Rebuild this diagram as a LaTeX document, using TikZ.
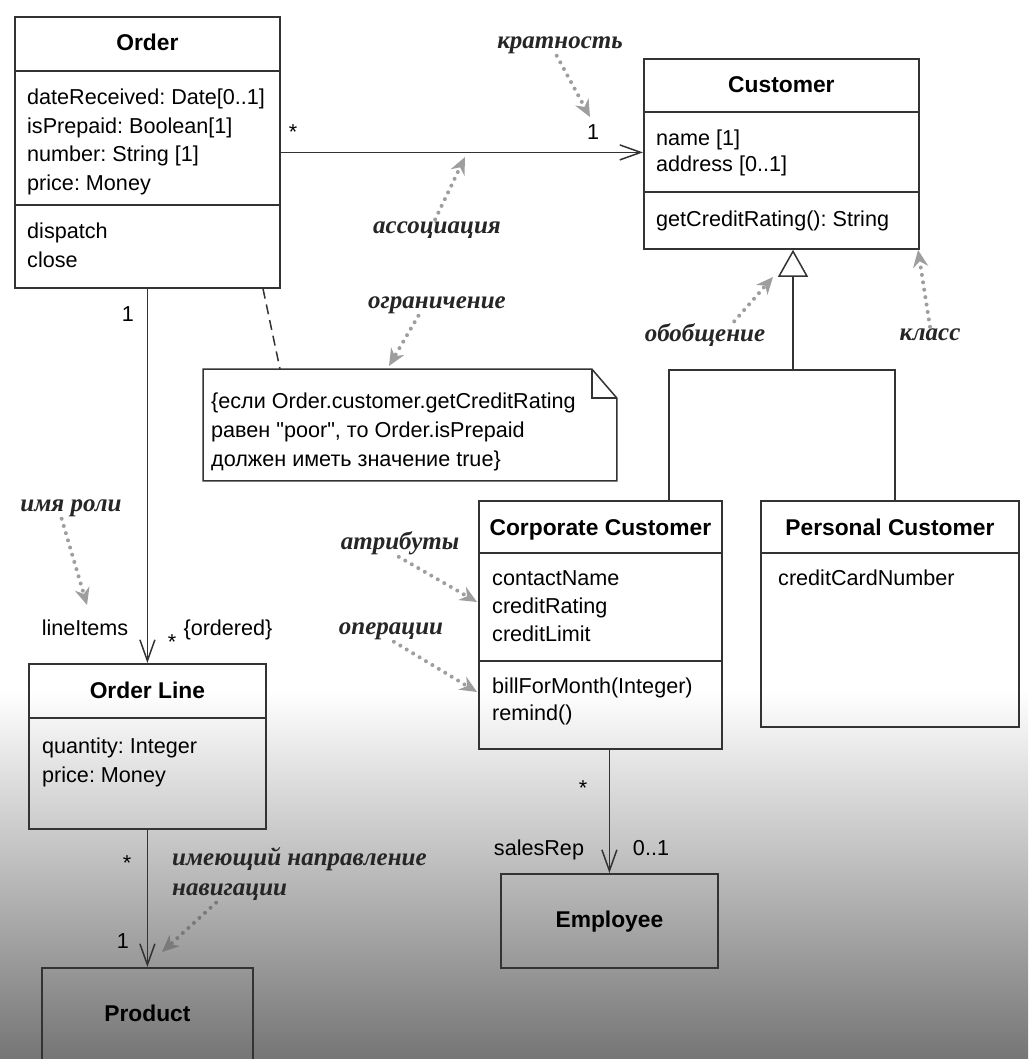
\documentclass[tikz,border=0pt]{standalone}
\usepackage{fontspec}
\setmainfont{Liberation Sans}[Ligatures=TeXOff]
\newfontfamily\handfont{Liberation Serif}
\usetikzlibrary{arrows.meta,calc}
\frenchspacing

\tikzset{
  classbox/.style={draw=black!80, line width=1.8pt, anchor=north west, inner sep=0pt},
  sepline/.style={draw=black!80, line width=1.8pt},
  title/.style={anchor=base, inner sep=0pt, font=\bfseries\fontsize{22.8}{27}\selectfont},
  member/.style={anchor=base west, inner sep=0pt, font=\fontsize{21.6}{27}\selectfont},
  mult/.style={anchor=base, inner sep=0pt, font=\fontsize{21.6}{27}\selectfont},
  hint/.style={inner sep=2pt, text=black!85, font=\handfont\bfseries\itshape\fontsize{25}{30}\selectfont},
  hintarrow/.style={draw=black!38, line width=4pt, line cap=round, dash pattern=on 0pt off 7.5pt,
    -{Stealth[length=17pt,width=15pt,fill=black!38]}},
  assoc/.style={draw=black!80, line width=1.5pt},
  navarrow/.style={assoc, -{Straight Barb[length=21pt,width=15pt]}},
}

\begin{document}
\begin{tikzpicture}[x=1pt, y=-1pt]
    \useasboundingbox (0,0) rectangle (1028,1059);
    \clip (0,0) rectangle (1028,1059);

    % background of the video frame
    \fill[white] (0,0) rectangle (1028,690);
    \shade[top color=white, middle color=black!22, bottom color=black!54] (0,690) rectangle (1028,1059);

    % classes
    \node[classbox, minimum width=265pt, minimum height=271pt] (order) at (14,16) {};
    \node[classbox, minimum width=275pt, minimum height=190pt] (customer) at (643,58) {};
    \node[classbox, minimum width=243pt, minimum height=248pt] (corporate) at (478,500) {};
    \node[classbox, minimum width=258pt, minimum height=226pt] (personal) at (760,500) {};
    \node[classbox, minimum width=237pt, minimum height=165pt] (orderline) at (28,663) {};
    \node[classbox, minimum width=211pt, minimum height=130pt] (product) at (41,967) {};
    \node[classbox, minimum width=217pt, minimum height=94pt] (employee) at (500,873) {};

    % compartments
    \foreach \n/\a in {order/55, order/189, customer/54, customer/134,
                       corporate/53, corporate/161, personal/53, orderline/55}
        \draw[sepline] ($(\n.north west)+(0,\a)$) -- ($(\n.north east)+(0,\a)$);

    % class names
    \foreach \n/\t in {order/Order, customer/Customer, corporate/Corporate Customer,
                       personal/Personal Customer, orderline/Order Line}
        \node[title] (\n-t) at ($(\n.north)+(0,35)$) {\t};
    \node[title] (product-t) at ($(product.north)+(0,54)$) {Product};
    \node[title] (employee-t) at ($(employee.north)+(0,54)$) {Employee};

    % attributes and operations
    \foreach \t/\y [count=\i] in {dateReceived: Date[0..1]/105, isPrepaid: Boolean[1]/134,
            number: String [1]/162, price: Money/191, dispatch/239, close/267}
        \node[member] (order-m\i) at (27,\y) {\t};
    \foreach \t/\y [count=\i] in {name [1]/146, address [0..1]/172, getCreditRating(): String/227}
        \node[member] (customer-m\i) at (656,\y) {\t};
    \foreach \t/\y [count=\i] in {contactName/585, creditRating/613, creditLimit/641,
            billForMonth(Integer)/693, remind()/720}
        \node[member] (corporate-m\i) at (492,\y) {\t};
    \node[member] (personal-m1) at (778,585) {creditCardNumber};
    \foreach \t/\y [count=\i] in {quantity: Integer/753, price: Money/782}
        \node[member] (orderline-m\i) at (42,\y) {\t};

    % constraint note
    \node[classbox, draw=none, minimum width=412pt, minimum height=110pt] (note) at (203,369) {};
    \draw[sepline, line width=1.5pt] (note.north west) -- ([xshift=-25pt]note.north east)
        -- ([yshift=-29pt]note.north east) -- (note.south east) -- (note.south west) -- cycle;
    \draw[sepline, line width=1.5pt] ([xshift=-25pt]note.north east) |- ([yshift=-29pt]note.north east);
    \foreach \t/\y [count=\i] in {{\{если Order.customer.getCreditRating}/408,
            {равен "poor", то Order.isPrepaid}/437, {должен иметь значение true\}}/466}
        \node[member] (note-m\i) at (211,\y) {\t};
    \draw[assoc, dash pattern=on 10pt off 6pt] (order.south -| 263,0) -- (note.north -| 280,0);

    % associations
    \draw[navarrow] (order.east) -- (order.east -| customer.west);
    \draw[navarrow] (order.south) -- (orderline.north);
    \draw[navarrow] (orderline.south) -- (product.north);
    \draw[navarrow] (corporate.south -| employee.north) -- (employee.north);

    % generalization
    \coordinate (join) at (793,370);
    \draw[assoc] (corporate.north -| 669,0) |- (join) -| (personal.north -| 895,0);
    \draw[assoc, -{Triangle[open,length=27pt,width=30pt]}] (join) -- (join |- customer.south);

    % multiplicities and role names
    \node[mult] (m-oc) at (293,140) {*};
    \node[mult] (m-co) at (593,140) {1};
    \node[mult] (m-ol) at (128,321) {1};
    \node[mult] (r-items) at (85,635) {lineItems};
    \node[mult] (m-lo) at (172,649) {*};
    \node[mult] (r-ordered) at (228,635) {\{ordered\}};
    \node[mult] (m-lp) at (127,870) {*};
    \node[mult] (m-pl) at (123,948) {1};
    \node[mult] (m-ce) at (583,795) {*};
    \node[mult] (r-sales) at (539,855) {salesRep};
    \node[mult] (m-ec) at (651,855) {0..1};

    % handwritten hints
    \node[hint] (h-mult) at (560,45) {кратность};
    \node[hint] (h-assoc) at (437,230) {ассоциация};
    \node[hint] (h-constr) at (437,305) {ограничение};
    \node[hint] (h-gen) at (705,335) {обобщение};
    \node[hint] (h-class) at (930,335) {класс};
    \node[hint] (h-role) at (71,508) {имя роли};
    \node[hint] (h-attr) at (400,543) {атрибуты};
    \node[hint] (h-ops) at (391,631) {операции};
    \node[hint, align=left, anchor=west] (h-nav) at (170,874) {имеющий направление\\навигации};

    \coordinate (t-mult) at (590,117);
    \coordinate (t-assoc) at (465,157);
    \coordinate (t-constr) at (389,366);
    \coordinate (t-gen) at (773,277);
    \coordinate (t-class) at (918,250);
    \coordinate (t-role) at (87,605);
    \coordinate (t-attr) at (477,602);
    \coordinate (t-ops) at (477,692);
    \coordinate (t-nav) at (162,952);

    \foreach \a/\s in {mult/253, assoc/100, constr/210, gen/25, class/90,
                       role/229, attr/265, ops/285}
        \draw[hintarrow] (h-\a.\s) -- (t-\a);
    \draw[hintarrow, draw=black!52, -{Stealth[length=17pt,width=15pt,fill=black!52]}] (h-nav.199) -- (t-nav);
\end{tikzpicture}
\end{document}
